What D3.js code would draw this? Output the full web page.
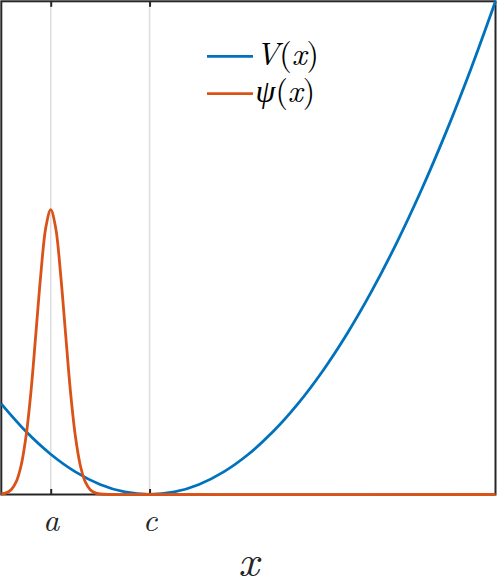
<!DOCTYPE html>
<html>
<head>
<meta charset="utf-8">
<script src="https://cdn.jsdelivr.net/npm/d3@7"></script>
<style>
  html, body { margin: 0; padding: 0; background: #fff; }
  svg { display: block; }
</style>
</head>
<body>
<svg id="chart" width="498" height="580"></svg>
<script>
// ---- data ----
const vX = [0, 0.5, 1, 1.5, 2, 2.5, 3, 3.5, 4, 4.5, 5, 5.5, 6, 6.5, 7, 7.5, 8, 8.5, 9, 9.5, 10];
const vY = [9, 6.25, 4, 2.25, 1, 0.25, 0, 0.25, 1, 2.25, 4, 6.25, 9, 12.25, 16, 20.25, 25, 30.25, 36, 42.25, 49];
const psiX = [0, 0.1, 0.2, 0.3, 0.4, 0.5, 0.6, 0.7, 0.8, 0.9, 1, 1.1, 1.2, 1.3, 1.4, 1.5, 1.6, 1.7, 1.8, 1.9, 2, 3, 10];
const psiY = [0.05, 0.16, 0.48, 1.25, 2.86, 5.76, 10.2, 16.0, 21.9, 26.5, 28.3, 26.5, 21.9, 16.0, 10.2, 5.76, 2.86, 1.25, 0.48, 0.16, 0.05, 0, 0];
const tickValues = [1, 3];
const tickLabels = ["a", "c"];
const seriesNames = ["V", "ψ"];
const colors = ["#0072BD", "#D95319"];
const xDomain = [0, 10];
const yDomain = [0, 49];

(function () {
  // ---- layout ----
  const svg = d3.select("#chart");
  const pL = 1.3, pR = 495.5, pT = 1.3, pB = 494.5;
  const x = d3.scaleLinear().domain(xDomain).range([pL, pR]);
  const y = d3.scaleLinear().domain(yDomain).range([pB, pT]);
  const axisColor = "#262626";
  const serif = "Latin Modern Roman, CMU Serif, Liberation Serif, serif";

  svg.append("rect").attr("width", 498).attr("height", 580).attr("fill", "#fff");

  // grid lines
  svg.append("g").selectAll("line").data(tickValues).join("line")
    .attr("x1", d => x(d)).attr("x2", d => x(d))
    .attr("y1", pT).attr("y2", pB)
    .attr("stroke", "#dedede").attr("stroke-width", 1.6);

  // axes box
  svg.append("rect")
    .attr("x", pL).attr("y", pT)
    .attr("width", pR - pL).attr("height", pB - pT)
    .attr("fill", "none").attr("stroke", axisColor).attr("stroke-width", 2);

  // bottom axis ticks (inward) with labels
  const bottomAxis = d3.axisBottom(x).tickValues(tickValues)
    .tickSizeInner(-5.5).tickSizeOuter(0)
    .tickFormat((d, i) => tickLabels[i]);
  const gb = svg.append("g").attr("transform", `translate(0,${pB})`).call(bottomAxis)
    .attr("font-family", serif).attr("font-size", 32);
  gb.select(".domain").remove();
  gb.selectAll(".tick line").attr("stroke", axisColor).attr("stroke-width", 2);
  gb.selectAll(".tick text")
    .attr("y", 36.3).attr("dy", 0)
    .attr("fill", axisColor)
    .attr("font-family", serif).attr("font-style", "italic").attr("font-size", 32);

  // top axis ticks (inward)
  const topAxis = d3.axisTop(x).tickValues(tickValues).tickSizeInner(-5.5).tickSizeOuter(0).tickFormat("");
  const gt = svg.append("g").attr("transform", `translate(0,${pT})`).call(topAxis);
  gt.select(".domain").remove();
  gt.selectAll(".tick line").attr("stroke", axisColor).attr("stroke-width", 2);

  // x label
  svg.append("text")
    .attr("x", (pL + pR) / 2).attr("y", 575.5)
    .attr("text-anchor", "middle")
    .attr("fill", axisColor)
    .attr("font-family", serif).attr("font-style", "italic").attr("font-size", 45)
    .text("x");

  // curves
  const line = d3.line().x(d => x(d[0])).y(d => y(d[1])).curve(d3.curveCatmullRom);
  const vData = vX.map((d, i) => [d, vY[i]]);
  const psiData = psiX.map((d, i) => [d, psiY[i]]);
  svg.append("path").datum(vData).attr("d", line)
    .attr("fill", "none").attr("stroke", colors[0]).attr("stroke-width", 2.8);
  svg.append("path").datum(psiData).attr("d", line)
    .attr("fill", "none").attr("stroke", colors[1]).attr("stroke-width", 2.8);

  // legend
  const legY = [56.3, 93.7];
  const lg = svg.append("g");
  seriesNames.forEach((name, i) => {
    lg.append("line")
      .attr("x1", 207).attr("x2", 253)
      .attr("y1", legY[i]).attr("y2", legY[i])
      .attr("stroke", colors[i]).attr("stroke-width", 2.8);
    const t = lg.append("text")
      .attr("x", 255.5).attr("y", legY[i] + 8.2)
      .attr("fill", "#000")
      .attr("font-family", serif).attr("font-size", 32);
    t.append("tspan").attr("font-style", "italic").text(name);
    t.append("tspan").text("(");
    t.append("tspan").attr("font-style", "italic").text("x");
    t.append("tspan").text(")");
  });
})();
</script>
</body>
</html>
